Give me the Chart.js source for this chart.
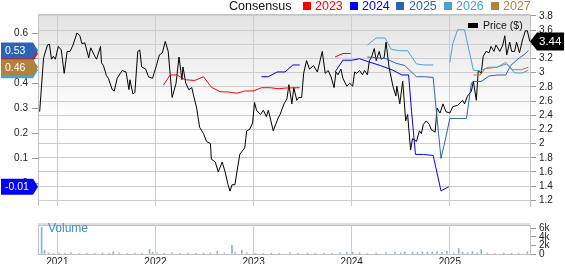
<!DOCTYPE html>
<html>
<head>
<meta charset="utf-8">
<script src="https://cdn.jsdelivr.net/npm/chart.js@4.4.1/dist/chart.umd.min.js"></script>
<style>
  body { margin: 0; width: 565px; height: 264px; overflow: hidden; background: #fff; position: relative;
         font-family: "Liberation Sans", Arial, sans-serif; }
  #main { position: absolute; left: 0; top: 0; }
  #vol { position: absolute; left: 0; top: 216px; }
  .lg { position: absolute; top: -1px; font-size: 12.5px; line-height: 14px; white-space: nowrap; }
  .sq { position: absolute; top: 2px; width: 8px; height: 8px; }
  #priceLg { position: absolute; left: 483px; top: 19px; font-size: 10.5px; line-height: 13px; color: #111; }
  #priceSq { position: absolute; left: 468px; top: 23px; width: 10px; height: 5px; background: #000; }
  #volLg { position: absolute; left: 48px; top: 221px; font-size: 12px; line-height: 15px; color: #3d8ccb; }
</style>
</head>
<body>
<canvas id="main" width="565" height="216"></canvas>
<canvas id="vol" width="565" height="48"></canvas>

<div class="lg" style="left:229px;color:#111">Consensus</div>
<div class="sq" style="left:303px;background:#ff0000"></div><div class="lg" style="left:315px;color:#ff0000">2023</div>
<div class="sq" style="left:350px;background:#0000ff"></div><div class="lg" style="left:362px;color:#0000ff">2024</div>
<div class="sq" style="left:396px;background:#2a64b4"></div><div class="lg" style="left:409px;color:#2a64b4">2025</div>
<div class="sq" style="left:444px;background:#45a5d8"></div><div class="lg" style="left:456px;color:#45a5d8">2026</div>
<div class="sq" style="left:491px;background:#b4813a"></div><div class="lg" style="left:503px;color:#b4813a">2027</div>
<div id="priceSq"></div><div id="priceLg">Price ($)</div>
<div id="volLg">Volume</div>

<script>
// x positions are decimal years
const xMin = 2020.803;
const xMax = 2025.817;
const yearTicks = [2021, 2022, 2023, 2024, 2025];
const priceTicks = [1.2, 1.4, 1.6, 1.8, 2, 2.2, 2.4, 2.6, 2.8, 3, 3.2, 3.4, 3.6, 3.8];
const epsTicks = [0, 0.1, 0.2, 0.3, 0.4, 0.5, 0.6];
const volTicks = [0, 2000, 4000, 6000];

// Price ($)
const priceDates = [2020.82, 2020.86, 2020.90, 2020.92, 2020.94, 2020.96, 2020.98, 2021.01, 2021.04, 2021.07,
  2021.10, 2021.13, 2021.16, 2021.20, 2021.23, 2021.25, 2021.28, 2021.32, 2021.34, 2021.39,
  2021.40, 2021.44, 2021.45, 2021.47, 2021.50, 2021.52, 2021.56, 2021.58, 2021.61, 2021.66,
  2021.70, 2021.73, 2021.74, 2021.77, 2021.79, 2021.82, 2021.84, 2021.86, 2021.90, 2021.93,
  2021.97, 2022.01, 2022.04, 2022.07, 2022.10, 2022.13, 2022.17, 2022.21, 2022.24, 2022.27,
  2022.28, 2022.31, 2022.34, 2022.37, 2022.39, 2022.42, 2022.45, 2022.49, 2022.52, 2022.56,
  2022.57, 2022.61, 2022.64, 2022.68, 2022.71, 2022.74, 2022.76, 2022.78, 2022.81, 2022.83,
  2022.86, 2022.91, 2022.93, 2022.96, 2022.99, 2023.01, 2023.03, 2023.07, 2023.10, 2023.13,
  2023.15, 2023.17, 2023.20, 2023.25, 2023.27, 2023.31, 2023.34, 2023.36, 2023.39, 2023.41,
  2023.44, 2023.46, 2023.49, 2023.51, 2023.54, 2023.57, 2023.61, 2023.65, 2023.70, 2023.73,
  2023.76, 2023.79, 2023.82, 2023.84, 2023.86, 2023.89, 2023.91, 2023.95, 2023.98, 2024.01,
  2024.03, 2024.05, 2024.08, 2024.11, 2024.13, 2024.16, 2024.18, 2024.20, 2024.23, 2024.25,
  2024.28, 2024.30, 2024.33, 2024.35, 2024.38, 2024.42, 2024.45, 2024.46, 2024.49, 2024.52,
  2024.55, 2024.57, 2024.60, 2024.62, 2024.66, 2024.69, 2024.71, 2024.73, 2024.76, 2024.79,
  2024.81, 2024.85, 2024.87, 2024.90, 2024.93, 2024.96, 2025.00, 2025.03, 2025.08, 2025.13,
  2025.15, 2025.18, 2025.22, 2025.24, 2025.27, 2025.29, 2025.32, 2025.34, 2025.37, 2025.40,
  2025.42, 2025.45, 2025.47, 2025.51, 2025.54, 2025.56, 2025.58, 2025.61, 2025.63, 2025.66,
  2025.68, 2025.71, 2025.74, 2025.77, 2025.79, 2025.815];
const priceValues = [2.45, 3.21, 3.39, 3.40, 3.19, 3.23, 3.19, 3.37, 3.32, 2.99,
  3.30, 3.30, 3.39, 3.56, 3.52, 3.41, 3.42, 3.21, 3.35, 3.21,
  3.19, 3.37, 3.14, 3.10, 2.96, 2.92, 2.76, 2.74, 2.92, 3.03,
  3.01, 2.76, 2.90, 2.70, 2.72, 3.30, 3.32, 3.08, 3.05, 2.94,
  2.92, 3.10, 3.25, 3.28, 3.44, 3.30, 2.65, 2.85, 3.22, 2.90,
  3.08, 2.85, 2.76, 2.79, 2.67, 2.50, 2.23, 2.14, 2.03, 2.00,
  1.78, 1.74, 1.60, 1.74, 1.60, 1.42, 1.33, 1.42, 1.42, 1.60,
  1.85, 1.94, 2.18, 2.20, 2.29, 2.58, 2.47, 2.41, 2.47, 2.38,
  2.47, 2.36, 2.18, 2.36, 2.41, 2.56, 2.63, 2.83, 2.56, 2.79,
  2.61, 2.65, 2.65, 2.99, 3.17, 3.05, 3.10, 3.01, 3.30, 2.99,
  3.03, 2.94, 2.79, 3.01, 2.97, 3.05, 2.92, 2.81, 2.85, 2.81,
  3.01, 2.99, 3.03, 2.97, 3.03, 2.97, 3.17, 3.21, 3.34, 3.17,
  3.30, 3.19, 3.21, 3.43, 3.08, 2.81, 2.67, 2.81, 2.56, 2.88,
  2.32, 2.41, 1.91, 2.07, 2.03, 2.18, 2.14, 2.27, 2.32, 2.27,
  2.20, 2.16, 2.50, 2.43, 2.56, 2.45, 2.43, 2.52, 2.54, 2.61,
  2.56, 2.67, 2.74, 2.88, 2.61, 3.03, 2.99, 3.23, 3.30, 3.28,
  3.37, 3.30, 3.39, 3.30, 3.39, 3.52, 3.25, 3.43, 3.30, 3.30,
  3.43, 3.28, 3.46, 3.59, 3.59, 3.44];

// Consensus EPS estimates (null = no estimate shown)
const eps2023Dates = [2022.08, 2022.15, 2022.22, 2022.30, 2022.40, 2022.49, 2022.57, 2022.66, 2022.74, 2022.83,
  2022.91, 2023.00, 2023.08, 2023.17, 2023.25, 2023.34, 2023.47, 2023.65, 2023.83, 2023.91, 2023.99];
const eps2023Values = [0.392, 0.433, 0.433, 0.414, 0.411, 0.426, 0.384, 0.366, 0.365, 0.360,
  0.369, 0.369, 0.382, 0.382, 0.378, 0.381, 0.382, null, 0.505, 0.519, 0.519];

const eps2024Dates = [2023.08, 2023.15, 2023.24, 2023.32, 2023.40, 2023.47, 2023.65, 2023.83, 2023.91, 2024.00,
  2024.08, 2024.17, 2024.29, 2024.42, 2024.51, 2024.58, 2024.61, 2024.65, 2024.73, 2024.83, 2024.91, 2024.99];
const eps2024Values = [0.426, 0.426, 0.445, 0.445, 0.473, 0.473, null, 0.445, 0.492, 0.492,
  0.498, 0.486, 0.471, 0.452, 0.433, 0.433, 0.286, 0.115, 0.115, 0.111, -0.031, -0.014];

const eps2025Dates = [2024.16, 2024.25, 2024.35, 2024.45, 2024.54, 2024.59, 2024.66, 2024.74, 2024.83, 2024.86,
  2024.91, 2024.96, 2025.00, 2025.08, 2025.17, 2025.22, 2025.25, 2025.32, 2025.40, 2025.49,
  2025.57, 2025.62, 2025.71, 2025.76, 2025.80];
const eps2025Values = [0.505, 0.502, 0.498, 0.480, 0.471, 0.452, 0.426, 0.426, 0.423, 0.299,
  0.099, 0.185, 0.259, 0.259, 0.259, 0.401, 0.407, 0.407, 0.429, 0.433,
  0.433, 0.471, 0.502, 0.515, 0.531];

const eps2026Dates = [2024.16, 2024.25, 2024.34, 2024.40, 2024.49, 2024.57, 2024.66, 2024.74, 2024.83, 2024.92,
  2025.00, 2025.03, 2025.08, 2025.15, 2025.24, 2025.31, 2025.39, 2025.48, 2025.58, 2025.66, 2025.74, 2025.80];
const eps2026Values = [0.553, 0.581, 0.581, 0.536, 0.530, 0.530, 0.477, 0.473, 0.473, null,
  0.483, 0.559, 0.614, 0.614, 0.452, 0.449, 0.464, 0.464, 0.477, 0.441, 0.441, 0.452];

const eps2027Dates = [2025.24, 2025.31, 2025.36, 2025.48, 2025.57, 2025.64, 2025.73, 2025.80];
const eps2027Values = [0.433, 0.433, 0.458, 0.464, 0.483, 0.454, 0.454, 0.464];

// Volume (shares)
const volDates = [2020.84, 2020.87, 2020.91, 2020.96, 2021.02, 2021.08, 2021.14, 2021.22, 2021.30, 2021.38,
  2021.46, 2021.53, 2021.57, 2021.63, 2021.71, 2021.79, 2021.86, 2021.94, 2021.97, 2022.02,
  2022.09, 2022.17, 2022.25, 2022.33, 2022.41, 2022.49, 2022.56, 2022.63, 2022.70, 2022.78,
  2022.81, 2022.88, 2022.93, 2023.02, 2023.10, 2023.18, 2023.26, 2023.37, 2023.45, 2023.55,
  2023.63, 2023.72, 2023.80, 2023.88, 2023.95, 2024.01, 2024.08, 2024.16, 2024.25, 2024.35,
  2024.44, 2024.50, 2024.54, 2024.62, 2024.67, 2024.72, 2024.77, 2024.82, 2024.87, 2024.92,
  2024.97, 2025.04, 2025.09, 2025.13, 2025.18, 2025.23, 2025.28, 2025.32, 2025.38, 2025.46,
  2025.55, 2025.63, 2025.70, 2025.79];
const volValues = [6200, 900, 250, 150, 200, 150, 300, 150, 200, 150,
  250, 150, 500, 200, 150, 200, 150, 1100, 400, 250,
  200, 250, 150, 200, 150, 200, 250, 600, 300, 2000,
  350, 900, 250, 150, 150, 200, 150, 250, 150, 200,
  150, 200, 150, 250, 400, 400, 300, 150, 200, 350,
  400, 200, 450, 400, 350, 500, 400, 450, 550, 400,
  600, 250, 1250, 400, 300, 550, 250, 1050, 200, 150,
  200, 150, 200, 500];

const epsSeries = [
  { label: '2023', color: '#ff0000', dates: eps2023Dates, values: eps2023Values },
  { label: '2024', color: '#0000ff', dates: eps2024Dates, values: eps2024Values },
  { label: '2026', color: '#45a5d8', dates: eps2026Dates, values: eps2026Values },
  { label: '2025', color: '#2a64b4', dates: eps2025Dates, values: eps2025Values },
  { label: '2027', color: '#b4813a', dates: eps2027Dates, values: eps2027Values }
];

Chart.defaults.font.family = '"Liberation Sans", Arial, sans-serif';
const gridColor = '#cdcdcd';
const frameColor = '#c2c2c2';

function pts(dates, values) {
  return dates.map((d, i) => ({ x: d, y: values[i] }));
}
function lastOf(values) {
  return values.filter(v => v !== null).slice(-1)[0];
}
function fixTicks(list) {
  return scale => { scale.ticks = list.map(v => ({ value: v })); };
}

// Gray-to-white background and the plot frame
const panelPlugin = {
  id: 'panel',
  beforeDraw(chart) {
    const a = chart.chartArea, ctx = chart.ctx;
    if (chart.canvas.id === 'main') {
      const g = ctx.createLinearGradient(0, a.top, 0, a.bottom);
      g.addColorStop(0, '#e3e3e3');
      g.addColorStop(0.55, '#ffffff');
      ctx.fillStyle = g;
      ctx.fillRect(a.left, a.top, a.right - a.left, a.bottom - a.top);
    } else {
      ctx.fillStyle = '#dedede';
      ctx.fillRect(a.left, a.top - 2, a.right - a.left, 2);
    }
  },
  afterDraw(chart) {
    const a = chart.chartArea, ctx = chart.ctx;
    ctx.save();
    ctx.strokeStyle = frameColor;
    ctx.lineWidth = 1;
    ctx.beginPath();
    ctx.moveTo(a.left + 0.5, a.bottom);
    ctx.lineTo(a.left + 0.5, a.top + 0.5);
    ctx.lineTo(a.right, a.top + 0.5);
    ctx.stroke();
    ctx.restore();
  }
};

function tag(ctx, side, y, color, text, right) {
  const h = side === 'left' ? 16 : 18;
  ctx.save();
  ctx.fillStyle = color;
  ctx.beginPath();
  if (side === 'left') {
    ctx.moveTo(1, y - h / 2);
    ctx.lineTo(33, y - h / 2);
    ctx.lineTo(38, y);
    ctx.lineTo(33, y + h / 2);
    ctx.lineTo(1, y + h / 2);
  } else {
    ctx.moveTo(right, y);
    ctx.lineTo(right + 7, y - h / 2);
    ctx.lineTo(564, y - h / 2);
    ctx.lineTo(564, y + h / 2);
    ctx.lineTo(right + 7, y + h / 2);
  }
  ctx.closePath();
  ctx.fill();
  ctx.fillStyle = '#fff';
  ctx.textBaseline = 'middle';
  ctx.font = (side === 'left' ? '10.5px' : '11.5px') + ' "Liberation Sans", Arial, sans-serif';
  ctx.fillText(text, side === 'left' ? 5 : right + 9, y + 0.5);
  ctx.restore();
}

// Last-value tags on both sides
const tagPlugin = {
  id: 'tags',
  afterDraw(chart) {
    const ctx = chart.ctx;
    const eps = chart.scales.eps;
    epsSeries.forEach(s => {
      const v = lastOf(s.values);
      tag(ctx, 'left', eps.getPixelForValue(v), s.color, v.toFixed(2));
    });
    const p = lastOf(priceValues);
    tag(ctx, 'right', chart.scales.price.getPixelForValue(p), '#000', p.toFixed(2), chart.chartArea.right);
  }
};

const datasets = epsSeries.map(s => ({
  data: pts(s.dates, s.values),
  borderColor: s.color,
  yAxisID: 'eps'
}));
datasets.push({ data: pts(priceDates, priceValues), borderColor: '#000', yAxisID: 'price' });

new Chart(document.getElementById('main'), {
  type: 'line',
  data: { datasets: datasets },
  options: {
    responsive: false,
    animation: false,
    layout: { padding: { top: 14, bottom: 0, left: 0, right: 0 } },
    plugins: { legend: { display: false }, tooltip: { enabled: false } },
    elements: { point: { radius: 0 }, line: { borderWidth: 1, tension: 0 } },
    scales: {
      x: {
        type: 'linear', min: xMin, max: xMax,
        afterBuildTicks: fixTicks(yearTicks),
        ticks: { display: false, autoSkip: false },
        grid: { color: gridColor, drawTicks: false },
        border: { display: false },
        afterFit: s => { s.height = 0; }
      },
      price: {
        position: 'right', min: 1.12, max: 3.827,
        afterBuildTicks: fixTicks(priceTicks),
        ticks: { callback: v => String(+v.toFixed(1)), color: '#222', font: { size: 10 }, padding: 3, autoSkip: false },
        grid: { color: gridColor, tickLength: 6, tickColor: '#999' },
        border: { color: frameColor },
        afterFit: s => { s.width = 35; }
      },
      eps: {
        position: 'left', min: -0.0914, max: 0.677,
        afterBuildTicks: fixTicks(epsTicks),
        ticks: { callback: v => (v === 0 ? '0' : v.toFixed(1)), color: '#222', font: { size: 10 }, padding: 4, autoSkip: false },
        grid: { drawOnChartArea: false, tickLength: 6, color: '#999' },
        border: { display: false },
        afterFit: s => { s.width = 38; }
      }
    }
  },
  plugins: [panelPlugin, tagPlugin]
});

new Chart(document.getElementById('vol'), {
  type: 'bar',
  data: {
    datasets: [{
      data: pts(volDates, volValues),
      backgroundColor: '#7db5e0',
      barThickness: 1,
      yAxisID: 'v'
    }]
  },
  options: {
    responsive: false,
    animation: false,
    layout: { padding: { top: 2, left: 38, right: 0, bottom: 0 } },
    plugins: { legend: { display: false }, tooltip: { enabled: false } },
    scales: {
      x: {
        type: 'linear', min: xMin, max: xMax, offset: false,
        afterBuildTicks: fixTicks(yearTicks),
        ticks: { callback: v => String(v), color: '#222', font: { size: 10 }, padding: 2, maxRotation: 0, autoSkip: false },
        grid: { color: gridColor, drawTicks: false, offset: false },
        border: { color: frameColor },
        afterFit: s => { s.height = 10; }
      },
      v: {
        position: 'right', min: 0, max: 6750,
        afterBuildTicks: fixTicks(volTicks),
        ticks: { callback: v => (v === 0 ? '0' : v / 1000 + 'k'), color: '#222', font: { size: 10 }, padding: 3, autoSkip: false },
        grid: { drawOnChartArea: false, tickLength: 6, color: '#999' },
        border: { color: frameColor },
        afterFit: s => { s.width = 35; }
      }
    }
  },
  plugins: [panelPlugin]
});
</script>
</body>
</html>
